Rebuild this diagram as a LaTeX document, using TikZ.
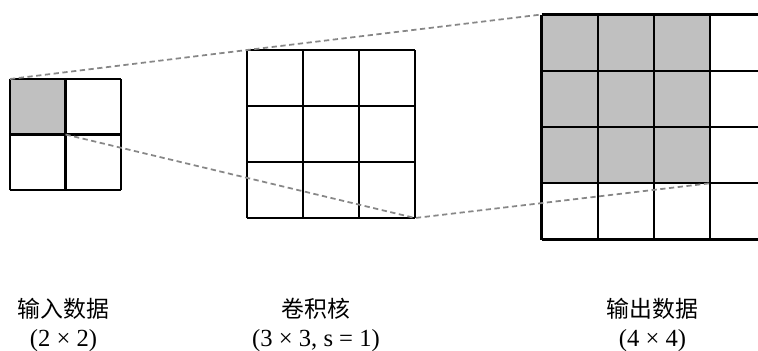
\documentclass[tikz,border=0pt]{standalone}
\usepackage{fontspec}
\setmainfont{Liberation Serif}
\newfontfamily\cjk[Scale=0.93]{Noto Sans CJK SC}
\usetikzlibrary{calc}
\definecolor{CellGray}{RGB}{192,192,192}
\definecolor{GuideGray}{RGB}{135,135,135}

\begin{document}
\begin{tikzpicture}[font=\fontsize{14}{16.5}\selectfont,
    cellline/.style={line width=1.2pt, black},
    guide/.style={GuideGray, line width=1pt, dash pattern=on 3pt off 2pt},
    gridtext/.style={align=center, inner sep=0pt}]
  % Canvas of 758x350 px (1 unit = 50 px); the output grid runs off the right edge
  \useasboundingbox (0,0) rectangle (15.16,7);
  \clip (0,0) rectangle (15.16,7);

  % Lower left corners of the three grids
  \coordinate (In) at (0.2,3.2);
  \coordinate (Ker) at (4.94,2.64);
  \coordinate (Out) at (10.83,2.21);

  % Guide points for the dashed lines
  \coordinate (InTL) at (0.2,5.42);
  \coordinate (InC) at (1.31,4.31);
  \coordinate (KerTL) at (4.94,6.0);
  \coordinate (KerBR) at (8.30,2.64);
  \coordinate (OutTL) at (10.83,6.71);
  \coordinate (OutC) at (14.205,3.335);

  % Shaded cells (input position and its footprint on the output)
  \fill[CellGray] ($(In)+(0,1.11)$) rectangle ++(1.11,1.11);
  \fill[CellGray] ($(Out)+(0,1.125)$) rectangle ++(3.375,3.375);

  % Input data 2x2
  \begin{scope}[shift={(In)}, scale=1.11]
    \draw[cellline] (0,0) grid (2,2);
  \end{scope}

  % Kernel 3x3
  \begin{scope}[shift={(Ker)}, scale=1.12]
    \draw[cellline] (0,0) grid (3,3);
  \end{scope}

  % Output data 4x4
  \begin{scope}[shift={(Out)}, scale=1.125]
    \draw[cellline] (0,0) grid (4,4);
  \end{scope}

  % Dashed projection lines
  \draw[guide] (InTL) -- (KerTL) -- (OutTL);
  \draw[guide] (InC) -- (KerBR) -- (OutC);

  % Captions
  \node[gridtext] (inText) at (1.27,0.5) {{\cjk 输入数据}\\(2 × 2)};
  \node[gridtext] (kerText) at (6.32,0.5) {{\cjk 卷积核}\\(3 × 3, s = 1)};
  \node[gridtext] (outText) at (13.05,0.5) {{\cjk 输出数据}\\(4 × 4)};
\end{tikzpicture}
\end{document}
